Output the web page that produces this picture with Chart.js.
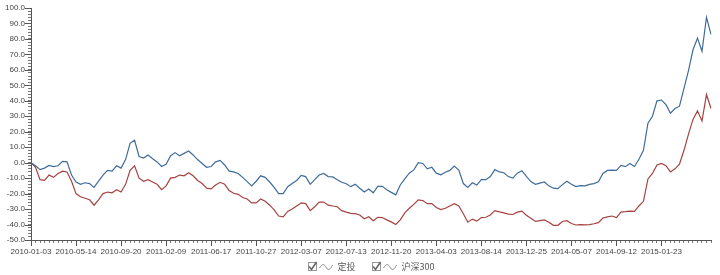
<!DOCTYPE html>
<html>
<head>
<meta charset="utf-8">
<script src="https://cdn.jsdelivr.net/npm/chart.js@4"></script>
<style>
  body { margin: 0; background: #fff; }
</style>
</head>
<body>
<canvas id="fund-chart" width="720" height="275"></canvas>
<script>
// x 轴标签，每 10 个点一个
const tickLabels = [
  "2010-01-03", "2010-05-14", "2010-09-20", "2011-02-09", "2011-06-17",
  "2011-10-27", "2012-03-07", "2012-07-13", "2012-11-20", "2013-04-03",
  "2013-08-14", "2013-12-25", "2014-05-07", "2014-09-12", "2015-01-23"
];

const seriesNames = ["定投", "沪深300"];

// 定投 收益 (%)
const dingtouValues = [
  0, -2, -4.5, -3.5, -1.8, -2.5, -2, 0.8, 0.5, -8,
  -12.5, -14, -13, -13.5, -16, -12, -8, -5, -5.5, -2,
  -3.5, 2, 12.5, 14.5, 4, 3, 5, 2.5, 0.5, -2.5,
  -1, 4.5, 6.5, 4.5, 6, 7.5, 5, 2, -0.5, -3,
  -2.5, 0.5, 1.5, -1.5, -5.5, -6, -7, -9.5, -12.3, -15,
  -12, -8.5, -9.5, -12.5, -16, -20, -20, -15.5, -13.5, -11.5,
  -8.2, -9, -14, -11, -8, -7, -9, -9.2, -11, -12.7,
  -13.6, -15.5, -14, -16.5, -19, -17, -19.5, -15.3, -15.3, -17.5,
  -19.2, -20.8, -14.4, -10.5, -6.8, -4.7, 0, -0.5, -4, -3,
  -6.8, -7.8, -6.2, -5, -2.2, -4.8, -13.5, -16, -13, -14.5,
  -11, -11, -9, -4.5, -6, -6.5, -9, -10, -6.8, -5.2,
  -8.8, -12.2, -14, -13.2, -12.5, -15, -16.5, -16.8, -14.2, -12,
  -14, -15.5, -14.8, -15, -14, -13.5, -12.3, -7, -5, -4.8,
  -5, -1.8, -2.6, -0.6, -2.5, 2.2, 8, 25.5, 30, 40,
  40.5, 37.5, 32, 35, 36.5, 48, 59.5, 73, 80.5, 72,
  94, 83
];

// 沪深300 收益 (%)
const hs300Values = [
  0, -3, -11, -11.5, -8, -9.5, -7, -5.5, -6, -12,
  -20, -22, -23, -24, -27.5, -24, -20, -19, -19.5, -17.5,
  -19, -14, -5, -2, -10, -12, -11, -12.5, -14, -17.5,
  -15, -10, -9.5, -8, -8.5, -6.5, -8.5, -11.5, -13.5, -16.5,
  -17, -14.5, -12.7, -14, -18, -19.8, -20.5, -22.5, -23.5, -26,
  -26, -23.5, -25, -27.5, -30.5, -34.5, -35, -31.5, -30, -28,
  -26, -26.5, -31, -28.5, -25.5, -25.5, -27.5, -28, -28.5, -31,
  -32, -32.8, -33, -33.8, -36.3, -35, -37.5, -35.3, -35.5, -37,
  -38.3, -40, -37, -32.5, -29.5, -27, -24, -24.5, -26.5, -26.5,
  -29, -30.3, -29.5, -28, -26.5, -28, -33, -38.5, -36.5, -37.8,
  -35.5, -35.3, -33.8, -31, -31.8, -32.5, -33.3, -33.5, -32, -31.3,
  -34, -36, -38, -37.5, -37, -38.5, -40.5, -40.5, -38, -37.5,
  -39.3, -40.3, -40, -40.2, -40, -39.5, -38.8, -35.8, -35, -34.5,
  -35.5, -32, -31.7, -31.3, -31.5, -28, -25, -10.5, -7, -1.5,
  -0.5, -2, -6, -4, -1, 8, 18.5, 28, 33.5, 27,
  44, 35
];

const lineColors = ["#3f6c9c", "#a6423f"];
const POINTS_PER_LABEL = 10;

const categories = dingtouValues.map((v, i) =>
  i % POINTS_PER_LABEL === 0 ? tickLabels[i / POINTS_PER_LABEL] || "" : ""
);

// 主刻度画长一点
const majorTicks = {
  id: "majorTicks",
  afterDraw(chart) {
    const ctx = chart.ctx;
    const xs = chart.scales.x;
    const ys = chart.scales.y;
    ctx.save();
    ctx.strokeStyle = "#555";
    ctx.lineWidth = 1;
    ctx.beginPath();
    categories.forEach((lab, i) => {
      if (!lab) return;
      const px = Math.round(xs.getPixelForValue(i)) + 0.5;
      ctx.moveTo(px, xs.top);
      ctx.lineTo(px, xs.top + 6);
    });
    ys.ticks.forEach((t) => {
      if (Math.round(t.value) % 10 !== 0) return;
      const py = Math.round(ys.getPixelForValue(t.value)) + 0.5;
      ctx.moveTo(ys.right - 6, py);
      ctx.lineTo(ys.right, py);
    });
    ctx.stroke();
    ctx.restore();
  },
};

// 底部带勾选框的图例
const checkLegend = {
  id: "checkLegend",
  afterDraw(chart) {
    const ctx = chart.ctx;
    const area = chart.chartArea;
    ctx.save();
    ctx.font = "9px 'Noto Sans CJK SC', sans-serif";
    const items = chart.data.datasets.map((ds) => ({
      text: ds.label,
      w: 9 + 3 + 13 + 5 + ctx.measureText(ds.label).width,
    }));
    const gap = 16;
    const total = items.reduce((s, it) => s + it.w, 0) + gap * (items.length - 1);
    let x = (area.left + area.right) / 2 - total / 2;
    const y = 267;
    items.forEach((it) => {
      ctx.strokeStyle = "#999";
      ctx.lineWidth = 1;
      ctx.strokeRect(Math.round(x) + 0.5, y - 4.5, 8, 8);
      ctx.strokeStyle = "#666";
      ctx.lineWidth = 1.6;
      ctx.beginPath();
      ctx.moveTo(x + 1.5, y - 0.5);
      ctx.lineTo(x + 4, y + 2.5);
      ctx.lineTo(x + 9, y - 5);
      ctx.stroke();

      // 波浪
      const wx = x + 12;
      ctx.strokeStyle = "#888";
      ctx.lineWidth = 1;
      ctx.beginPath();
      ctx.moveTo(wx, y + 1);
      ctx.bezierCurveTo(wx + 3, y - 4, wx + 5, y - 3, wx + 7, y + 1);
      ctx.bezierCurveTo(wx + 9, y + 4, wx + 11, y + 2, wx + 13, y - 2);
      ctx.stroke();

      ctx.fillStyle = "#555";
      ctx.textBaseline = "middle";
      ctx.textAlign = "left";
      ctx.fillText(it.text, x + 30, y);
      x += it.w + gap;
    });
    ctx.restore();
  },
};

const ctx = document.getElementById("fund-chart").getContext("2d");

new Chart(ctx, {
  type: "line",
  data: {
    labels: categories,
    datasets: [
      {
        label: seriesNames[0],
        data: dingtouValues,
        borderColor: lineColors[0],
        borderWidth: 1.2,
        pointRadius: 0,
        tension: 0,
        fill: false,
      },
      {
        label: seriesNames[1],
        data: hs300Values,
        borderColor: lineColors[1],
        borderWidth: 1.2,
        pointRadius: 0,
        tension: 0,
        fill: false,
      },
    ],
  },
  options: {
    responsive: false,
    animation: false,
    layout: { padding: { top: 8, right: 9, left: 0, bottom: 0 } },
    plugins: {
      legend: { display: false },
      tooltip: { enabled: false },
    },
    scales: {
      x: {
        afterFit: (scale) => { scale.height = 35; },
        border: { color: "#555" },
        grid: { drawOnChartArea: false, tickLength: 3, color: "#777" },
        ticks: {
          autoSkip: false,
          maxRotation: 0,
          padding: 4,
          color: "#444",
          font: { family: "'Liberation Sans', Arial", size: 8 },
        },
      },
      y: {
        min: -50,
        max: 100,
        afterFit: (scale) => { scale.width = 31; },
        border: { color: "#555" },
        grid: { drawOnChartArea: false, tickLength: 3, color: "#777" },
        ticks: {
          stepSize: 2,
          autoSkip: false,
          padding: 3,
          color: "#444",
          font: { family: "'Liberation Sans', Arial", size: 8 },
          callback: (v) => (Math.round(v) % 10 === 0 ? v.toFixed(1) : ""),
        },
      },
    },
  },
  plugins: [majorTicks, checkLegend],
});
</script>
</body>
</html>
